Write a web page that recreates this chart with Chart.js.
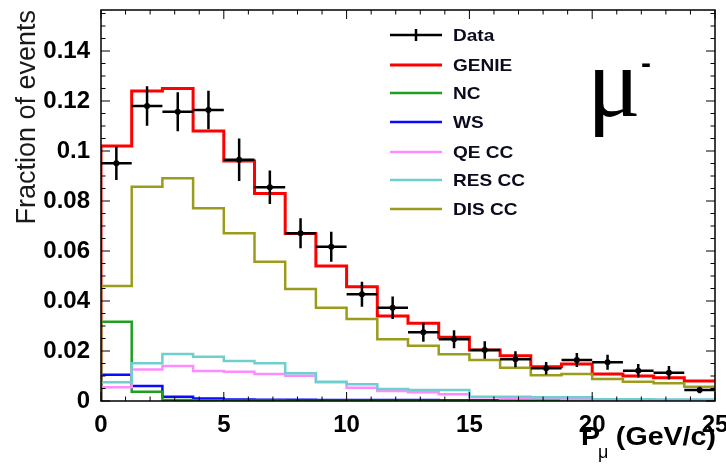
<!DOCTYPE html>
<html>
<head>
<meta charset="utf-8">
<script src="https://cdn.jsdelivr.net/npm/chart.js@4.4.1/dist/chart.umd.min.js"></script>
<style>
  body { margin: 0; background: #fff; }
  canvas { display: block; }
</style>
</head>
<body>
<canvas id="chart" width="726" height="465"></canvas>
<script>
// Muon momentum distribution, fraction of events per 1.25 GeV/c bin

const binEdges = [0, 1.25, 2.5, 3.75, 5, 6.25, 7.5, 8.75, 10, 11.25, 12.5,
                  13.75, 15, 16.25, 17.5, 18.75, 20, 21.25, 22.5, 23.75, 25];

const dataValues = [0.0951, 0.118, 0.1157, 0.1164, 0.0965, 0.0855, 0.0671, 0.0617, 0.0427, 0.0373,
                    0.0275, 0.0247, 0.0204, 0.0167, 0.0131, 0.0164, 0.0155, 0.0121, 0.0113, 0.0044];
const dataErrors = [0.0067, 0.0079, 0.0078, 0.0077, 0.0085, 0.0067, 0.006, 0.006, 0.005, 0.0045,
                    0.0038, 0.0036, 0.0035, 0.0032, 0.0025, 0.0028, 0.003, 0.0027, 0.0027, 0.0013];

const genie = [0.102, 0.124, 0.125, 0.108, 0.096, 0.083, 0.067, 0.054, 0.0457, 0.034,
               0.0311, 0.0255, 0.0204, 0.0181, 0.0137, 0.0148, 0.0108, 0.0100, 0.0093, 0.0080];
const nc = [0.0317, 0.0037, 0.0004, 0.0002, 0.0001, 0.0001, 0, 0, 0, 0,
            0, 0, 0, 0, 0, 0, 0, 0, 0, 0];
const ws = [0.0105, 0.006, 0.0017, 0.001, 0.0006, 0.0005, 0.0005, 0.0004, 0.0004, 0.0004,
            0.0004, 0.0003, 0.0003, 0.0003, 0.0003, 0.0003, 0.0002, 0.0002, 0.0002, 0.0002];
const qeCC = [0.0055, 0.0126, 0.0140, 0.0120, 0.0117, 0.0108, 0.0101, 0.0075, 0.0053, 0.0040,
              0.0035, 0.0027, 0.0015, 0.0010, 0.0010, 0.0007, 0.0005, 0.0005, 0.0004, 0.0004];
const resCC = [0.0075, 0.0151, 0.0188, 0.0177, 0.0160, 0.0151, 0.0111, 0.0077, 0.0067, 0.0048,
               0.0044, 0.0044, 0.0017, 0.0017, 0.0015, 0.0015, 0.0007, 0.0007, 0.0006, 0.0006];
const disCC = [0.046, 0.0857, 0.0891, 0.0771, 0.0671, 0.0557, 0.0448, 0.0373, 0.0328, 0.0247,
               0.0221, 0.0187, 0.0164, 0.0133, 0.0103, 0.0108, 0.0088, 0.0077, 0.0071, 0.0057];

const xTickLabels = ['0', '5', '10', '15', '20', '25'];
const yTickLabels = ['0', '0.02', '0.04', '0.06', '0.08', '0.1', '0.12', '0.14'];

const legendNames = ['Data', 'GENIE', 'NC', 'WS', 'QE CC', 'RES CC', 'DIS CC'];
const legendColors = ['#000000', '#ff0000', '#1f9f1f', '#0a0aff', '#ff8cff', '#6fcfcf', '#9c9c1c'];

// histogram -> stepped line points (start at zero on the left edge)
function histPoints(values) {
    const pts = [{ x: binEdges[0], y: 0 }];
    values.forEach((v, i) => pts.push({ x: binEdges[i], y: v }));
    pts.push({ x: binEdges[binEdges.length - 1], y: values[values.length - 1] });
    return pts;
}

function histDataset(label, values, color, width) {
    return {
        label: label,
        data: histPoints(values),
        borderColor: color,
        borderWidth: width,
        stepped: 'before',
        pointRadius: 0,
        fill: false
    };
}

// frame, inner ticks, error bars, legend and labels
const rootStyle = {
    id: 'rootStyle',
    afterDatasetsDraw(chart) {
        const ctx = chart.ctx;
        const xs = chart.scales.x;
        const ys = chart.scales.y;
        ctx.save();
        ctx.strokeStyle = '#000';
        ctx.fillStyle = '#000';
        ctx.lineWidth = 2.5;
        dataValues.forEach((v, i) => {
            const x0 = xs.getPixelForValue(binEdges[i]);
            const x1 = xs.getPixelForValue(binEdges[i + 1]);
            const xc = xs.getPixelForValue((binEdges[i] + binEdges[i + 1]) / 2);
            const yc = ys.getPixelForValue(v);
            ctx.beginPath();
            ctx.moveTo(x0, yc);
            ctx.lineTo(x1, yc);
            ctx.moveTo(xc, ys.getPixelForValue(v - dataErrors[i]));
            ctx.lineTo(xc, ys.getPixelForValue(v + dataErrors[i]));
            ctx.stroke();
            ctx.beginPath();
            ctx.arc(xc, yc, 3, 0, Math.PI * 2);
            ctx.fill();
        });
        ctx.restore();
    },
    afterDraw(chart) {
        const ctx = chart.ctx;
        const a = chart.chartArea;
        const xs = chart.scales.x;
        const ys = chart.scales.y;
        ctx.save();

        // frame
        ctx.strokeStyle = '#000';
        ctx.lineWidth = 1.5;
        ctx.strokeRect(a.left, a.top, a.right - a.left, a.bottom - a.top);

        // ticks inside the frame
        ctx.lineWidth = 1;
        ctx.beginPath();
        for (let v = 0; v <= 25; v++) {
            const px = xs.getPixelForValue(v);
            const len = v % 5 === 0 ? 9 : 4.5;
            ctx.moveTo(px, a.bottom); ctx.lineTo(px, a.bottom - len);
            ctx.moveTo(px, a.top); ctx.lineTo(px, a.top + len);
        }
        for (let k = 0; k <= 31; k++) {
            const py = ys.getPixelForValue(k * 0.005);
            const len = k % 4 === 0 ? 9 : 4.5;
            ctx.moveTo(a.left, py); ctx.lineTo(a.left + len, py);
            ctx.moveTo(a.right, py); ctx.lineTo(a.right - len, py);
        }
        ctx.stroke();

        // legend
        const rowY = [35, 65, 93, 122, 152, 180, 209];
        legendNames.forEach((name, i) => {
            const y = rowY[i];
            ctx.strokeStyle = legendColors[i];
            ctx.lineWidth = i === 1 ? 3 : 2.5;
            ctx.beginPath();
            ctx.moveTo(390, y);
            ctx.lineTo(442, y);
            if (i === 0) {
                ctx.moveTo(416, y - 6);
                ctx.lineTo(416, y + 6);
            }
            ctx.stroke();
            ctx.save();
            ctx.translate(453, y);
            ctx.scale(1.12, 1);
            ctx.fillStyle = '#0b0b1e';
            ctx.font = 'bold 17px "Liberation Sans", Arial, sans-serif';
            ctx.textBaseline = 'middle';
            ctx.textAlign = 'left';
            ctx.fillText(name, 0, 1);
            ctx.restore();
        });

        // mu- label
        ctx.fillStyle = '#000';
        ctx.textAlign = 'left';
        ctx.textBaseline = 'alphabetic';
        ctx.font = '100px "Liberation Serif", serif';
        ctx.fillText('\u03bc', 587, 116);
        ctx.font = 'bold 30px "Liberation Sans", sans-serif';
        ctx.fillText('-', 641, 73);

        // x axis title with subscript
        ctx.save();
        ctx.translate(716, 445);
        ctx.scale(1.1, 1);
        ctx.font = 'bold 26px "Liberation Sans", Arial, sans-serif';
        ctx.textAlign = 'right';
        ctx.fillText('(GeV/c)', 0, 0);
        ctx.restore();
        ctx.save();
        ctx.translate(581, 445);
        ctx.scale(1.1, 1);
        ctx.font = 'bold 26px "Liberation Sans", Arial, sans-serif';
        ctx.fillText('P', 0, 0);
        ctx.restore();
        ctx.font = '18px "Liberation Sans", Arial, sans-serif';
        ctx.fillText('\u03bc', 598, 458);

        ctx.restore();
    }
};

new Chart(document.getElementById('chart'), {
    type: 'line',
    data: {
        datasets: [
            histDataset('DIS CC', disCC, legendColors[6], 2.5),
            histDataset('RES CC', resCC, legendColors[5], 2.5),
            histDataset('QE CC', qeCC, legendColors[4], 2.5),
            histDataset('NC', nc, legendColors[2], 2.5),
            histDataset('WS', ws, legendColors[3], 2.5),
            histDataset('GENIE', genie, legendColors[1], 3)
        ]
    },
    options: {
        responsive: false,
        animation: false,
        layout: { padding: { top: 10, right: 11, left: 0, bottom: 0 } },
        plugins: {
            legend: { display: false },
            tooltip: { enabled: false }
        },
        scales: {
            x: {
                type: 'linear',
                min: 0,
                max: 25,
                grid: { display: false, drawTicks: false },
                border: { display: false },
                afterFit(scale) {
                    scale.height = 64;
                    scale.paddingLeft = 0;
                    scale.paddingRight = 0;
                },
                ticks: {
                    stepSize: 5,
                    padding: 10,
                    color: '#000',
                    font: { family: '"Liberation Sans", Arial, sans-serif', size: 24, weight: 'bold' },
                    callback: (v) => xTickLabels[Math.round(v / 5)] ?? ''
                }
            },
            y: {
                min: 0,
                max: 0.1564,
                grid: { display: false, drawTicks: false },
                border: { display: false },
                afterFit(scale) {
                    scale.width = 101;
                    scale.paddingTop = 0;
                    scale.paddingBottom = 0;
                },
                title: {
                    display: true,
                    text: 'Fraction of events',
                    align: 'end',
                    color: '#1a1a1a',
                    padding: { top: 11, bottom: 0 },
                    font: { family: '"Liberation Sans", Arial, sans-serif', size: 27 }
                },
                ticks: {
                    stepSize: 0.02,
                    includeBounds: false,
                    padding: 11,
                    color: '#000',
                    font: { family: '"Liberation Sans", Arial, sans-serif', size: 24, weight: 'bold' },
                    callback: (v) => {
                        const k = Math.round(v / 0.02);
                        return Math.abs(v - k * 0.02) < 1e-6 ? (yTickLabels[k] ?? '') : '';
                    }
                }
            }
        }
    },
    plugins: [rootStyle]
});
</script>
</body>
</html>
